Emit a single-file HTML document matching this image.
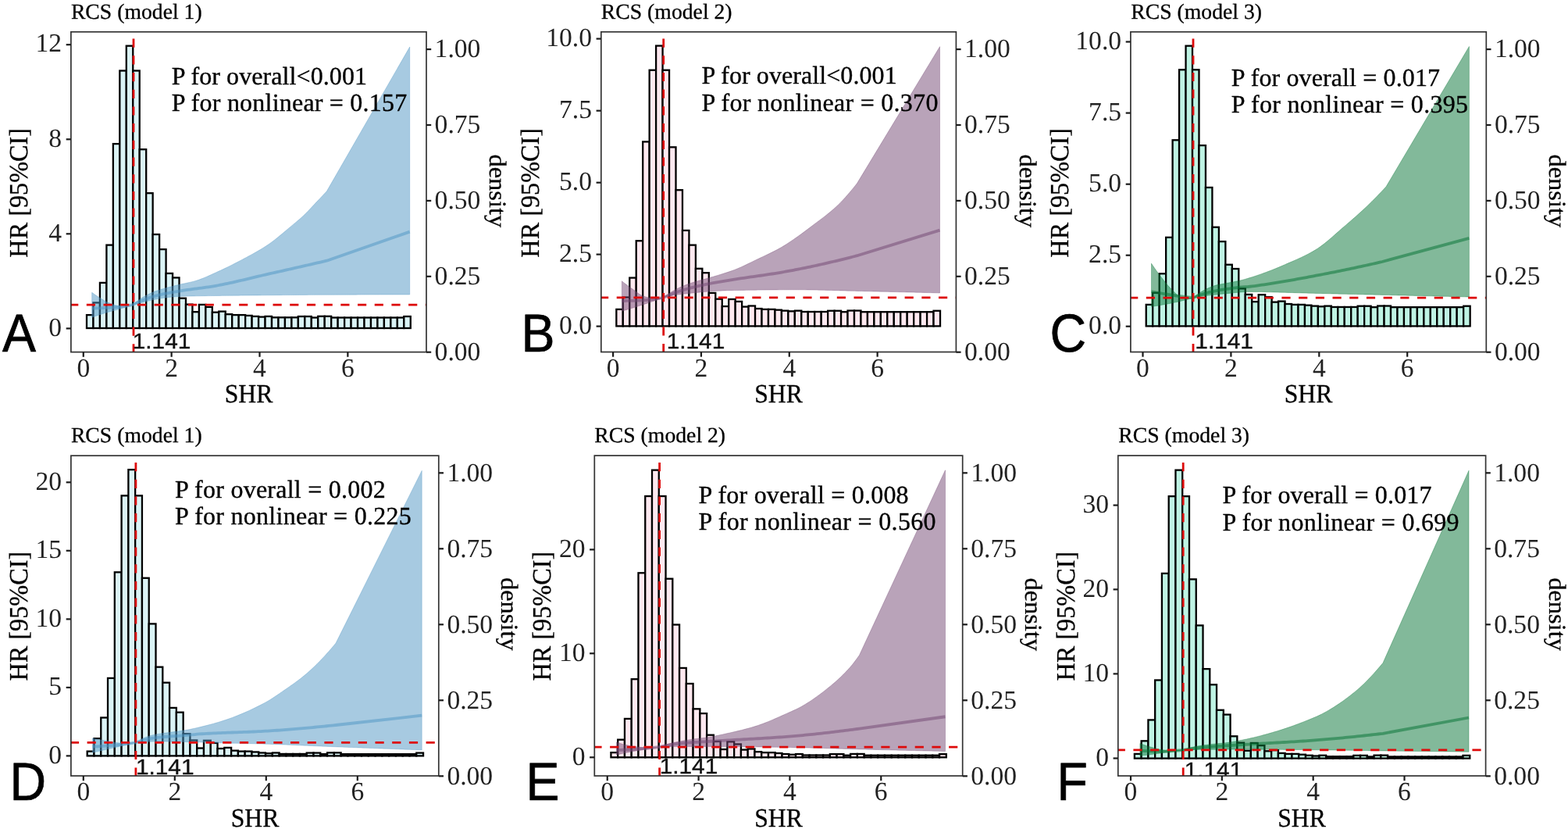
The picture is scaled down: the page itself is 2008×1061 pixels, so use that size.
<!DOCTYPE html>
<html lang="en">
<head>
<meta charset="utf-8">
<title>RCS curves: SHR and hazard ratio (models 1-3)</title>
<style>
html,body{margin:0;padding:0;background:#fff;}
body{width:2008px;height:1061px;overflow:hidden;}
svg{display:block;}
text{white-space:pre;}
</style>
</head>
<body>
<svg width="2008" height="1061" viewBox="0 0 2008 1061" text-rendering="geometricPrecision">
<rect x="0" y="0" width="2008" height="1061" fill="#ffffff"/>
<g class="panel" id="panel-A">
<clipPath id="clipA"><rect x="90.9" y="40.8" width="455.1" height="409.8"/></clipPath>
<g clip-path="url(#clipA)">
<g fill="#dbf4f6" stroke="#000" stroke-width="2.3" stroke-linejoin="miter">
<rect x="111.01" y="403.1" width="8.46" height="16.9"/>
<rect x="119.48" y="387.4" width="8.46" height="32.6"/>
<rect x="127.94" y="361.9" width="8.46" height="58.1"/>
<rect x="136.41" y="313.6" width="8.46" height="106.4"/>
<rect x="144.87" y="184.1" width="8.46" height="235.9"/>
<rect x="153.33" y="90.5" width="8.46" height="329.5"/>
<rect x="161.8" y="58.7" width="8.46" height="361.3"/>
<rect x="170.26" y="90.5" width="8.46" height="329.5"/>
<rect x="178.73" y="191.2" width="8.46" height="228.8"/>
<rect x="187.19" y="247.2" width="8.46" height="172.8"/>
<rect x="195.66" y="300" width="8.46" height="120"/>
<rect x="204.12" y="319.1" width="8.46" height="100.9"/>
<rect x="212.59" y="349.9" width="8.46" height="70.1"/>
<rect x="221.05" y="355.4" width="8.46" height="64.6"/>
<rect x="229.52" y="381.7" width="8.46" height="38.3"/>
<rect x="237.98" y="389.6" width="8.46" height="30.4"/>
<rect x="246.44" y="399.2" width="8.46" height="20.8"/>
<rect x="254.91" y="389.9" width="8.46" height="30.1"/>
<rect x="263.37" y="392.9" width="8.46" height="27.1"/>
<rect x="271.84" y="399.7" width="8.46" height="20.3"/>
<rect x="280.3" y="398.6" width="8.46" height="21.4"/>
<rect x="288.77" y="402.2" width="8.46" height="17.8"/>
<rect x="297.23" y="403.1" width="8.46" height="16.9"/>
<rect x="305.7" y="403.1" width="8.46" height="16.9"/>
<rect x="314.16" y="403.9" width="8.46" height="16.1"/>
<rect x="322.62" y="404.9" width="8.46" height="15.1"/>
<rect x="331.09" y="405.6" width="8.46" height="14.4"/>
<rect x="339.55" y="404.9" width="8.46" height="15.1"/>
<rect x="348.02" y="406.3" width="8.46" height="13.7"/>
<rect x="356.48" y="406.3" width="8.46" height="13.7"/>
<rect x="364.95" y="406.3" width="8.46" height="13.7"/>
<rect x="373.41" y="406.3" width="8.46" height="13.7"/>
<rect x="381.88" y="405" width="8.46" height="15"/>
<rect x="390.34" y="405" width="8.46" height="15"/>
<rect x="398.81" y="406.5" width="8.46" height="13.5"/>
<rect x="407.27" y="404.8" width="8.46" height="15.2"/>
<rect x="415.73" y="404.8" width="8.46" height="15.2"/>
<rect x="424.2" y="406.5" width="8.46" height="13.5"/>
<rect x="432.66" y="406.5" width="8.46" height="13.5"/>
<rect x="441.13" y="406.5" width="8.46" height="13.5"/>
<rect x="449.59" y="406.5" width="8.46" height="13.5"/>
<rect x="458.06" y="406.5" width="8.46" height="13.5"/>
<rect x="466.52" y="406.5" width="8.46" height="13.5"/>
<rect x="474.99" y="406.5" width="8.46" height="13.5"/>
<rect x="483.45" y="406.5" width="8.46" height="13.5"/>
<rect x="491.91" y="406.5" width="8.46" height="13.5"/>
<rect x="500.38" y="406.5" width="8.46" height="13.5"/>
<rect x="508.84" y="406.5" width="8.46" height="13.5"/>
<rect x="517.31" y="405" width="8.46" height="15"/>
</g>
<polygon points="117.7,374.3 119.72,375.78 121.75,377.22 123.77,378.61 125.79,379.94 127.82,381.21 129.84,382.48 131.86,383.73 133.88,384.93 135.91,386.03 137.93,387 139.95,387.82 141.98,388.66 144,389.48 146.02,390.23 148.05,390.86 150.07,391.29 152.09,391.49 154.12,391.49 156.14,391.47 158.16,391.43 160.18,391.37 162.21,391.3 164.23,391.21 166.25,390.97 168.28,390.48 170.3,389.9 173.33,387.33 176.35,384.93 179.38,382.74 182.4,380.83 185.43,379.07 188.45,377.43 191.48,375.92 194.5,374.54 197.53,373.29 200.56,372.19 203.58,371.2 206.61,370.29 209.63,369.44 212.66,368.61 215.68,367.8 218.71,367 221.74,366.23 224.76,365.48 227.79,364.75 230.81,364.03 233.84,363.34 236.86,362.69 239.89,362.05 242.91,361.39 245.94,360.68 248.97,359.89 251.99,359 255.02,357.98 258.04,356.87 261.07,355.68 264.09,354.41 267.12,353.09 270.15,351.73 273.17,350.35 276.2,348.95 279.22,347.56 282.25,346.19 285.27,344.79 288.3,343.36 291.32,341.9 294.35,340.41 297.38,338.9 300.4,337.37 303.43,335.81 306.45,334.23 309.48,332.64 312.5,331.02 315.53,329.41 318.55,327.79 321.58,326.15 324.61,324.5 327.63,322.81 330.66,321.08 333.68,319.29 336.71,317.45 339.73,315.55 342.76,313.56 345.79,311.47 348.81,309.26 351.84,306.94 354.86,304.55 357.89,302.09 360.91,299.58 363.94,297.03 366.96,294.48 369.99,291.92 373.02,289.39 376.04,286.88 379.07,284.38 382.09,281.84 385.12,279.23 388.14,276.5 391.17,273.6 394.2,270.51 397.22,267.31 400.25,264.05 403.27,260.8 406.3,257.61 409.32,254.42 412.35,251.22 415.37,248.01 418.4,244.8 524.7,60.1 524.7,377 521.7,377 518.69,377 515.69,377 512.69,377 509.68,377.01 506.68,377.01 503.68,377.01 500.67,377.02 497.67,377.02 494.67,377.03 491.66,377.03 488.66,377.04 485.66,377.05 482.65,377.05 479.65,377.06 476.65,377.07 473.64,377.07 470.64,377.08 467.64,377.09 464.63,377.1 461.63,377.11 458.63,377.12 455.62,377.13 452.62,377.14 449.62,377.15 446.61,377.16 443.61,377.17 440.61,377.18 437.6,377.19 434.6,377.2 431.59,377.21 428.59,377.23 425.59,377.24 422.58,377.25 419.58,377.26 416.58,377.27 413.57,377.29 410.57,377.3 407.57,377.31 404.56,377.32 401.56,377.34 398.56,377.36 395.55,377.37 392.55,377.39 389.55,377.41 386.54,377.43 383.54,377.45 380.54,377.48 377.53,377.5 374.53,377.52 371.53,377.55 368.52,377.57 365.52,377.6 362.52,377.62 359.51,377.65 356.51,377.67 353.51,377.7 350.5,377.73 347.5,377.75 344.5,377.78 341.49,377.8 338.49,377.83 335.49,377.86 332.48,377.88 329.48,377.91 326.48,377.94 323.47,377.96 320.47,377.99 317.47,378.02 314.46,378.05 311.46,378.08 308.46,378.1 305.45,378.14 302.45,378.17 299.45,378.2 296.44,378.23 293.44,378.27 290.44,378.3 287.43,378.34 284.43,378.37 281.43,378.41 278.42,378.45 275.42,378.49 272.42,378.54 269.41,378.58 266.41,378.62 263.41,378.66 260.4,378.71 257.4,378.75 254.39,378.8 251.39,378.85 248.39,378.91 245.38,378.98 242.38,379.05 239.38,379.12 236.37,379.21 233.37,379.3 230.37,379.4 227.36,379.55 224.36,379.75 221.36,380.01 218.35,380.29 215.35,380.59 212.35,380.94 209.34,381.34 206.34,381.79 203.34,382.29 200.33,382.82 197.33,383.39 194.33,384.05 191.32,384.8 188.32,385.59 185.32,386.39 182.31,387.16 179.31,387.87 176.31,388.56 173.3,389.23 170.3,389.9 168.28,390.6 166.25,391.29 164.23,391.97 162.21,392.63 160.18,393.28 158.16,393.91 156.14,394.53 154.12,395.12 152.09,395.69 150.07,396.25 148.05,396.79 146.02,397.32 144,397.87 141.98,398.42 139.95,398.99 137.93,399.59 135.91,400.2 133.88,400.81 131.86,401.44 129.84,402.08 127.82,402.73 125.79,403.38 123.77,404.05 121.75,404.72 119.72,405.41 117.7,406.1" fill="#4f95c3" fill-opacity="0.5" stroke="#4f95c3" stroke-opacity="0.35" stroke-width="1" stroke-linejoin="round"/>
<polyline points="117.7,394.6 119.72,394.56 121.75,394.51 123.77,394.45 125.79,394.39 127.82,394.31 129.84,394.23 131.86,394.14 133.88,394.05 135.91,393.95 137.93,393.85 139.95,393.74 141.98,393.63 144,393.51 146.02,393.37 148.05,393.22 150.07,393.06 152.09,392.88 154.12,392.69 156.14,392.47 158.16,392.22 160.18,391.92 162.21,391.58 164.23,391.2 166.25,390.79 168.28,390.35 170.3,389.9 173.33,388.43 176.35,387.02 179.38,385.69 182.4,384.46 185.43,383.26 188.45,382.11 191.48,381.01 194.5,380 197.53,379.11 200.56,378.32 203.58,377.58 206.61,376.89 209.63,376.23 212.66,375.61 215.68,375.02 218.71,374.46 221.74,373.91 224.76,373.38 227.79,372.86 230.81,372.35 233.84,371.85 236.86,371.39 239.89,370.94 242.91,370.52 245.94,370.11 248.97,369.71 251.99,369.31 255.02,368.92 258.04,368.52 261.07,368.11 264.09,367.69 267.12,367.26 270.15,366.8 273.17,366.31 276.2,365.79 279.22,365.25 282.25,364.68 285.27,364.09 288.3,363.47 291.32,362.84 294.35,362.19 297.38,361.53 300.4,360.85 303.43,360.16 306.45,359.46 309.48,358.75 312.5,358.03 315.53,357.31 318.55,356.59 321.58,355.86 324.61,355.14 327.63,354.41 330.66,353.69 333.68,352.98 336.71,352.27 339.73,351.57 342.76,350.89 345.79,350.21 348.81,349.52 351.84,348.84 354.86,348.16 357.89,347.48 360.91,346.79 363.94,346.11 366.96,345.42 369.99,344.74 373.02,344.05 376.04,343.36 379.07,342.68 382.09,341.99 385.12,341.3 388.14,340.61 391.17,339.93 394.2,339.24 397.22,338.55 400.25,337.85 403.27,337.16 406.3,336.47 409.32,335.78 412.35,335.09 415.37,334.39 418.4,333.7 524.7,296.6" fill="none" stroke="#4f95c3" stroke-width="3.8" stroke-opacity="0.52" stroke-linejoin="round"/>
<line x1="89.1" y1="390.2" x2="546" y2="390.2" stroke="#dd0a0a" stroke-width="2.8" stroke-dasharray="11.2 10.5"/>
<line x1="171" y1="451.4" x2="171" y2="40.8" stroke="#dd0a0a" stroke-width="2.8" stroke-dasharray="11.2 10.5"/>
<text transform="translate(169.75 446.4) scale(1.072 1)" font-family='"Liberation Sans", "DejaVu Sans", sans-serif' font-size="27.8" fill="#111" stroke="#111" stroke-width="0.4">1.141</text>
</g>
<text x="219.7" y="107.6" font-family='"Liberation Serif", "DejaVu Serif", serif' font-size="32.0" textLength="250.3" lengthAdjust="spacing" fill="#000" stroke="#000" stroke-width="0.35">P for overall&lt;0.001</text>
<text x="219.7" y="142.2" font-family='"Liberation Serif", "DejaVu Serif", serif' font-size="32.0" textLength="301.5" lengthAdjust="spacing" fill="#000" stroke="#000" stroke-width="0.35">P for nonlinear = 0.157</text>
<rect x="90.9" y="40.8" width="455.1" height="409.8" fill="none" stroke="#333333" stroke-width="1.7"/>
<g stroke="#1a1a1a" stroke-width="2.2">
<line x1="84.7" y1="420.4" x2="90.9" y2="420.4"/>
<line x1="84.7" y1="299.3" x2="90.9" y2="299.3"/>
<line x1="84.7" y1="178.3" x2="90.9" y2="178.3"/>
<line x1="84.7" y1="57.2" x2="90.9" y2="57.2"/>
<line x1="546" y1="450.7" x2="552.2" y2="450.7"/>
<line x1="546" y1="353.8" x2="552.2" y2="353.8"/>
<line x1="546" y1="256.9" x2="552.2" y2="256.9"/>
<line x1="546" y1="160" x2="552.2" y2="160"/>
<line x1="546" y1="63.1" x2="552.2" y2="63.1"/>
<line x1="106.78" y1="450.6" x2="106.78" y2="456.8"/>
<line x1="219.64" y1="450.6" x2="219.64" y2="456.8"/>
<line x1="332.5" y1="450.6" x2="332.5" y2="456.8"/>
<line x1="445.36" y1="450.6" x2="445.36" y2="456.8"/>
</g>
<g font-family='"Liberation Serif", "DejaVu Serif", serif' font-size="33.6" fill="#222">
<text x="79.1" y="429.6" text-anchor="end">0</text>
<text x="79.1" y="308.5" text-anchor="end">4</text>
<text x="79.1" y="187.5" text-anchor="end">8</text>
<text x="79.1" y="66.4" text-anchor="end">12</text>
<text x="556.6" y="460.9">0.00</text>
<text x="556.6" y="364">0.25</text>
<text x="556.6" y="267.1">0.50</text>
<text x="556.6" y="170.2">0.75</text>
<text x="556.6" y="73.3">1.00</text>
<text x="106.78" y="481.6" text-anchor="middle">0</text>
<text x="219.64" y="481.6" text-anchor="middle">2</text>
<text x="332.5" y="481.6" text-anchor="middle">4</text>
<text x="445.36" y="481.6" text-anchor="middle">6</text>
</g>
<g font-family='"Liberation Serif", "DejaVu Serif", serif' font-size="32.0" fill="#000" stroke="#000" stroke-width="0.3">
<text transform="translate(318.5 515.2) scale(0.99 1.05)" text-anchor="middle">SHR</text>
<text transform="translate(34.9 246.8) rotate(-90) scale(1.008 1.05)" text-anchor="middle">HR [95%CI]</text>
<text transform="translate(626.5 244.3) rotate(90) scale(1.015 0.97)" text-anchor="middle">density</text>
</g>
<text x="90.9" y="23.7" font-family='"Liberation Serif", "DejaVu Serif", serif' font-size="27.7" fill="#000" stroke="#000" stroke-width="0.3" textLength="167.8" lengthAdjust="spacing">RCS (model 1)</text>
<text transform="translate(3 450.4) scale(0.94 1)" font-family='"Liberation Sans", "DejaVu Sans", sans-serif' font-size="68.6" fill="#000" stroke="#000" stroke-width="0.7">A</text>
</g>
<g class="panel" id="panel-B">
<clipPath id="clipB"><rect x="769.8" y="40.8" width="454.6" height="409.7"/></clipPath>
<g clip-path="url(#clipB)">
<g fill="#ffe9f0" stroke="#000" stroke-width="2.3" stroke-linejoin="miter">
<rect x="789.33" y="395.9" width="8.46" height="21.5"/>
<rect x="797.79" y="380.52" width="8.46" height="36.88"/>
<rect x="806.26" y="355.55" width="8.46" height="61.85"/>
<rect x="814.72" y="308.24" width="8.46" height="109.16"/>
<rect x="823.18" y="181.41" width="8.46" height="235.99"/>
<rect x="831.65" y="89.74" width="8.46" height="327.66"/>
<rect x="840.11" y="58.59" width="8.46" height="358.81"/>
<rect x="848.57" y="89.74" width="8.46" height="327.66"/>
<rect x="857.04" y="188.36" width="8.46" height="229.04"/>
<rect x="865.5" y="243.21" width="8.46" height="174.19"/>
<rect x="873.96" y="294.92" width="8.46" height="122.48"/>
<rect x="882.42" y="313.63" width="8.46" height="103.77"/>
<rect x="890.89" y="343.79" width="8.46" height="73.61"/>
<rect x="899.35" y="349.18" width="8.46" height="68.22"/>
<rect x="907.81" y="374.94" width="8.46" height="42.46"/>
<rect x="916.28" y="382.68" width="8.46" height="34.72"/>
<rect x="924.74" y="392.08" width="8.46" height="25.32"/>
<rect x="933.2" y="382.97" width="8.46" height="34.43"/>
<rect x="941.67" y="385.91" width="8.46" height="31.49"/>
<rect x="950.13" y="392.57" width="8.46" height="24.83"/>
<rect x="958.59" y="391.49" width="8.46" height="25.91"/>
<rect x="967.05" y="395.02" width="8.46" height="22.38"/>
<rect x="975.52" y="395.9" width="8.46" height="21.5"/>
<rect x="983.98" y="395.9" width="8.46" height="21.5"/>
<rect x="992.44" y="396.68" width="8.46" height="20.72"/>
<rect x="1000.91" y="397.66" width="8.46" height="19.74"/>
<rect x="1009.37" y="398.35" width="8.46" height="19.05"/>
<rect x="1017.83" y="397.66" width="8.46" height="19.74"/>
<rect x="1026.3" y="399.03" width="8.46" height="18.37"/>
<rect x="1034.76" y="399.03" width="8.46" height="18.37"/>
<rect x="1043.22" y="399.03" width="8.46" height="18.37"/>
<rect x="1051.68" y="399.03" width="8.46" height="18.37"/>
<rect x="1060.15" y="397.76" width="8.46" height="19.64"/>
<rect x="1068.61" y="397.76" width="8.46" height="19.64"/>
<rect x="1077.07" y="399.23" width="8.46" height="18.17"/>
<rect x="1085.54" y="397.56" width="8.46" height="19.84"/>
<rect x="1094" y="397.56" width="8.46" height="19.84"/>
<rect x="1102.46" y="399.23" width="8.46" height="18.17"/>
<rect x="1110.93" y="399.23" width="8.46" height="18.17"/>
<rect x="1119.39" y="399.23" width="8.46" height="18.17"/>
<rect x="1127.85" y="399.23" width="8.46" height="18.17"/>
<rect x="1136.31" y="399.23" width="8.46" height="18.17"/>
<rect x="1144.78" y="399.23" width="8.46" height="18.17"/>
<rect x="1153.24" y="399.23" width="8.46" height="18.17"/>
<rect x="1161.7" y="399.23" width="8.46" height="18.17"/>
<rect x="1170.17" y="399.23" width="8.46" height="18.17"/>
<rect x="1178.63" y="399.23" width="8.46" height="18.17"/>
<rect x="1187.09" y="399.23" width="8.46" height="18.17"/>
<rect x="1195.56" y="397.76" width="8.46" height="19.64"/>
</g>
<polygon points="796.4,359.8 798.45,361.44 800.5,363.04 802.55,364.61 804.6,366.14 806.65,367.64 808.7,369.1 810.75,370.52 812.8,372.03 814.85,373.58 816.9,375.11 818.95,376.54 821,377.8 823.05,378.82 825.1,379.53 827.15,380.06 829.2,380.55 831.25,381 833.3,381.39 835.35,381.69 837.4,381.9 839.45,382 841.5,381.97 843.55,381.83 845.6,381.59 847.65,381.24 849.7,380.8 852.72,378.54 855.75,376.39 858.77,374.36 861.79,372.48 864.82,370.75 867.84,369.18 870.86,367.74 873.89,366.41 876.91,365.17 879.93,364.01 882.95,362.93 885.98,361.91 889,360.96 892.02,360.07 895.05,359.23 898.07,358.41 901.09,357.6 904.12,356.79 907.14,355.95 910.16,355.08 913.19,354.19 916.21,353.29 919.23,352.38 922.26,351.46 925.28,350.51 928.3,349.56 931.33,348.6 934.35,347.61 937.37,346.57 940.4,345.45 943.42,344.25 946.44,342.97 949.46,341.64 952.49,340.25 955.51,338.82 958.53,337.37 961.56,335.9 964.58,334.42 967.6,332.95 970.63,331.5 973.65,330.07 976.67,328.64 979.7,327.22 982.72,325.78 985.74,324.33 988.77,322.84 991.79,321.31 994.81,319.74 997.84,318.11 1000.86,316.41 1003.88,314.61 1006.9,312.72 1009.93,310.75 1012.95,308.73 1015.97,306.68 1019,304.61 1022.02,302.48 1025.04,300.3 1028.07,298.08 1031.09,295.83 1034.11,293.55 1037.14,291.26 1040.16,288.97 1043.18,286.7 1046.21,284.45 1049.23,282.2 1052.25,279.93 1055.28,277.63 1058.3,275.27 1061.32,272.85 1064.35,270.34 1067.37,267.74 1070.39,265.02 1073.41,262.16 1076.44,259.15 1079.46,256 1082.48,252.71 1085.51,249.29 1088.53,245.77 1091.55,242.13 1094.58,238.41 1097.6,234.6 1203.5,59.7 1203.5,374.9 1200.48,374.83 1197.45,374.75 1194.43,374.68 1191.4,374.61 1188.38,374.54 1185.36,374.46 1182.33,374.39 1179.31,374.32 1176.28,374.25 1173.26,374.18 1170.24,374.1 1167.21,374.03 1164.19,373.96 1161.16,373.89 1158.14,373.82 1155.12,373.75 1152.09,373.68 1149.07,373.61 1146.05,373.54 1143.02,373.47 1140,373.4 1136.97,373.33 1133.95,373.26 1130.93,373.19 1127.9,373.13 1124.88,373.06 1121.85,372.99 1118.83,372.92 1115.81,372.85 1112.78,372.78 1109.76,372.72 1106.73,372.65 1103.71,372.58 1100.69,372.52 1097.66,372.45 1094.64,372.37 1091.61,372.3 1088.59,372.22 1085.57,372.14 1082.54,372.06 1079.52,371.97 1076.49,371.89 1073.47,371.8 1070.45,371.72 1067.42,371.63 1064.4,371.55 1061.38,371.47 1058.35,371.39 1055.33,371.31 1052.3,371.24 1049.28,371.17 1046.26,371.1 1043.23,371.04 1040.21,370.99 1037.18,370.94 1034.16,370.9 1031.14,370.86 1028.11,370.83 1025.09,370.81 1022.06,370.8 1019.04,370.8 1016.02,370.8 1012.99,370.81 1009.97,370.81 1006.94,370.82 1003.92,370.84 1000.9,370.85 997.87,370.87 994.85,370.89 991.82,370.91 988.8,370.93 985.78,370.96 982.75,370.99 979.73,371.02 976.71,371.05 973.68,371.08 970.66,371.12 967.63,371.16 964.61,371.2 961.59,371.24 958.56,371.29 955.54,371.33 952.51,371.38 949.49,371.43 946.47,371.48 943.44,371.54 940.42,371.59 937.39,371.65 934.37,371.71 931.35,371.79 928.32,371.89 925.3,372.01 922.27,372.15 919.25,372.31 916.23,372.48 913.2,372.66 910.18,372.85 907.15,373.05 904.13,373.28 901.11,373.55 898.08,373.83 895.06,374.13 892.04,374.45 889.01,374.76 885.99,375.08 882.96,375.4 879.94,375.7 876.92,376.01 873.89,376.33 870.87,376.68 867.84,377.08 864.82,377.54 861.8,378.07 858.77,378.67 855.75,379.33 852.72,380.04 849.7,380.8 847.65,381.54 845.6,382.28 843.55,383.02 841.5,383.74 839.45,384.46 837.4,385.18 835.35,385.89 833.3,386.59 831.25,387.28 829.2,387.97 827.15,388.66 825.1,389.34 823.05,390.01 821,390.68 818.95,391.34 816.9,391.99 814.85,392.64 812.8,393.28 810.75,393.92 808.7,394.55 806.65,395.17 804.6,395.79 802.55,396.4 800.5,397.01 798.45,397.61 796.4,398.2" fill="#734773" fill-opacity="0.5" stroke="#734773" stroke-opacity="0.35" stroke-width="1" stroke-linejoin="round"/>
<polyline points="796.4,385 798.45,385 800.5,384.98 802.55,384.96 804.6,384.93 806.65,384.89 808.7,384.84 810.75,384.79 812.8,384.73 814.85,384.67 816.9,384.61 818.95,384.54 821,384.46 823.05,384.36 825.1,384.22 827.15,384.05 829.2,383.86 831.25,383.64 833.3,383.39 835.35,383.13 837.4,382.84 839.45,382.54 841.5,382.22 843.55,381.88 845.6,381.53 847.65,381.17 849.7,380.8 852.72,379.44 855.75,378.14 858.77,376.89 861.79,375.7 864.82,374.57 867.84,373.51 870.86,372.51 873.89,371.55 876.91,370.64 879.93,369.77 882.95,368.95 885.98,368.16 889,367.4 892.02,366.67 895.05,365.96 898.07,365.27 901.09,364.61 904.12,363.97 907.14,363.35 910.16,362.75 913.19,362.18 916.21,361.62 919.23,361.09 922.26,360.57 925.28,360.06 928.3,359.56 931.33,359.07 934.35,358.57 937.37,358.08 940.4,357.6 943.42,357.14 946.44,356.68 949.46,356.23 952.49,355.78 955.51,355.34 958.53,354.91 961.56,354.48 964.58,354.04 967.6,353.61 970.63,353.18 973.65,352.75 976.67,352.31 979.7,351.87 982.72,351.42 985.74,350.96 988.77,350.5 991.79,350.03 994.81,349.54 997.84,349.04 1000.86,348.53 1003.88,348 1006.9,347.46 1009.93,346.9 1012.95,346.34 1015.97,345.77 1019,345.19 1022.02,344.6 1025.04,344.01 1028.07,343.4 1031.09,342.79 1034.11,342.16 1037.14,341.53 1040.16,340.89 1043.18,340.24 1046.21,339.59 1049.23,338.92 1052.25,338.25 1055.28,337.57 1058.3,336.88 1061.32,336.18 1064.35,335.47 1067.37,334.76 1070.39,334.04 1073.41,333.31 1076.44,332.57 1079.46,331.83 1082.48,331.07 1085.51,330.31 1088.53,329.55 1091.55,328.77 1094.58,327.99 1097.6,327.2 1203.5,294.6" fill="none" stroke="#734773" stroke-width="3.8" stroke-opacity="0.52" stroke-linejoin="round"/>
<line x1="768" y1="380.9" x2="1224.4" y2="380.9" stroke="#dd0a0a" stroke-width="2.8" stroke-dasharray="11.2 10.5"/>
<line x1="849.7" y1="451.3" x2="849.7" y2="40.8" stroke="#dd0a0a" stroke-width="2.8" stroke-dasharray="11.2 10.5"/>
<text transform="translate(853.65 446.1) scale(1.072 1)" font-family='"Liberation Sans", "DejaVu Sans", sans-serif' font-size="27.8" fill="#111" stroke="#111" stroke-width="0.4">1.141</text>
</g>
<text x="898.4" y="106.6" font-family='"Liberation Serif", "DejaVu Serif", serif' font-size="32.0" textLength="250.3" lengthAdjust="spacing" fill="#000" stroke="#000" stroke-width="0.35">P for overall&lt;0.001</text>
<text x="898.4" y="141.6" font-family='"Liberation Serif", "DejaVu Serif", serif' font-size="32.0" textLength="303" lengthAdjust="spacing" fill="#000" stroke="#000" stroke-width="0.35">P for nonlinear = 0.370</text>
<rect x="769.8" y="40.8" width="454.6" height="409.7" fill="none" stroke="#333333" stroke-width="1.7"/>
<g stroke="#1a1a1a" stroke-width="2.2">
<line x1="763.6" y1="417.6" x2="769.8" y2="417.6"/>
<line x1="763.6" y1="325.6" x2="769.8" y2="325.6"/>
<line x1="763.6" y1="233.7" x2="769.8" y2="233.7"/>
<line x1="763.6" y1="141.7" x2="769.8" y2="141.7"/>
<line x1="763.6" y1="49.6" x2="769.8" y2="49.6"/>
<line x1="1224.4" y1="450.7" x2="1230.6" y2="450.7"/>
<line x1="1224.4" y1="353.8" x2="1230.6" y2="353.8"/>
<line x1="1224.4" y1="256.9" x2="1230.6" y2="256.9"/>
<line x1="1224.4" y1="160" x2="1230.6" y2="160"/>
<line x1="1224.4" y1="63.1" x2="1230.6" y2="63.1"/>
<line x1="785.1" y1="450.5" x2="785.1" y2="456.7"/>
<line x1="897.94" y1="450.5" x2="897.94" y2="456.7"/>
<line x1="1010.78" y1="450.5" x2="1010.78" y2="456.7"/>
<line x1="1123.62" y1="450.5" x2="1123.62" y2="456.7"/>
</g>
<g font-family='"Liberation Serif", "DejaVu Serif", serif' font-size="33.6" fill="#222">
<text x="758" y="426.8" text-anchor="end">0.0</text>
<text x="758" y="334.8" text-anchor="end">2.5</text>
<text x="758" y="242.9" text-anchor="end">5.0</text>
<text x="758" y="150.9" text-anchor="end">7.5</text>
<text x="758" y="58.8" text-anchor="end">10.0</text>
<text x="1235" y="460.9">0.00</text>
<text x="1235" y="364">0.25</text>
<text x="1235" y="267.1">0.50</text>
<text x="1235" y="170.2">0.75</text>
<text x="1235" y="73.3">1.00</text>
<text x="785.1" y="481.6" text-anchor="middle">0</text>
<text x="897.94" y="481.6" text-anchor="middle">2</text>
<text x="1010.78" y="481.6" text-anchor="middle">4</text>
<text x="1123.62" y="481.6" text-anchor="middle">6</text>
</g>
<g font-family='"Liberation Serif", "DejaVu Serif", serif' font-size="32.0" fill="#000" stroke="#000" stroke-width="0.3">
<text transform="translate(997 515.2) scale(0.99 1.05)" text-anchor="middle">SHR</text>
<text transform="translate(689.8 246.8) rotate(-90) scale(1.008 1.05)" text-anchor="middle">HR [95%CI]</text>
<text transform="translate(1305.5 244.3) rotate(90) scale(1.015 0.97)" text-anchor="middle">density</text>
</g>
<text x="769.8" y="23.7" font-family='"Liberation Serif", "DejaVu Serif", serif' font-size="27.7" fill="#000" stroke="#000" stroke-width="0.3" textLength="167.8" lengthAdjust="spacing">RCS (model 2)</text>
<text transform="translate(667.5 450.3) scale(0.94 1)" font-family='"Liberation Sans", "DejaVu Sans", sans-serif' font-size="68.6" fill="#000" stroke="#000" stroke-width="0.7">B</text>
</g>
<g class="panel" id="panel-C">
<clipPath id="clipC"><rect x="1447.9" y="40.8" width="455.4" height="409.7"/></clipPath>
<g clip-path="url(#clipC)">
<g fill="#bff4e4" stroke="#000" stroke-width="2.3" stroke-linejoin="miter">
<rect x="1467.73" y="389.9" width="8.47" height="27.5"/>
<rect x="1476.2" y="374.8" width="8.47" height="42.6"/>
<rect x="1484.67" y="350.28" width="8.47" height="67.12"/>
<rect x="1493.14" y="303.83" width="8.47" height="113.57"/>
<rect x="1501.6" y="179.28" width="8.47" height="238.12"/>
<rect x="1510.07" y="89.27" width="8.47" height="328.13"/>
<rect x="1518.54" y="58.69" width="8.47" height="358.71"/>
<rect x="1527.01" y="89.27" width="8.47" height="328.13"/>
<rect x="1535.47" y="186.11" width="8.47" height="231.29"/>
<rect x="1543.94" y="239.97" width="8.47" height="177.43"/>
<rect x="1552.41" y="290.75" width="8.47" height="126.65"/>
<rect x="1560.88" y="309.11" width="8.47" height="108.29"/>
<rect x="1569.34" y="338.73" width="8.47" height="78.67"/>
<rect x="1577.81" y="344.02" width="8.47" height="73.38"/>
<rect x="1586.28" y="369.32" width="8.47" height="48.08"/>
<rect x="1594.75" y="376.91" width="8.47" height="40.49"/>
<rect x="1603.21" y="386.15" width="8.47" height="31.25"/>
<rect x="1611.68" y="377.2" width="8.47" height="40.2"/>
<rect x="1620.15" y="380.09" width="8.47" height="37.31"/>
<rect x="1628.62" y="386.63" width="8.47" height="30.77"/>
<rect x="1637.08" y="385.57" width="8.47" height="31.83"/>
<rect x="1645.55" y="389.03" width="8.47" height="28.37"/>
<rect x="1654.02" y="389.9" width="8.47" height="27.5"/>
<rect x="1662.49" y="389.9" width="8.47" height="27.5"/>
<rect x="1670.95" y="390.67" width="8.47" height="26.73"/>
<rect x="1679.42" y="391.63" width="8.47" height="25.77"/>
<rect x="1687.89" y="392.3" width="8.47" height="25.1"/>
<rect x="1696.36" y="391.63" width="8.47" height="25.77"/>
<rect x="1704.82" y="392.97" width="8.47" height="24.43"/>
<rect x="1713.29" y="392.97" width="8.47" height="24.43"/>
<rect x="1721.76" y="392.97" width="8.47" height="24.43"/>
<rect x="1730.23" y="392.97" width="8.47" height="24.43"/>
<rect x="1738.69" y="391.72" width="8.47" height="25.68"/>
<rect x="1747.16" y="391.72" width="8.47" height="25.68"/>
<rect x="1755.63" y="393.17" width="8.47" height="24.23"/>
<rect x="1764.1" y="391.53" width="8.47" height="25.87"/>
<rect x="1772.56" y="391.53" width="8.47" height="25.87"/>
<rect x="1781.03" y="393.17" width="8.47" height="24.23"/>
<rect x="1789.5" y="393.17" width="8.47" height="24.23"/>
<rect x="1797.97" y="393.17" width="8.47" height="24.23"/>
<rect x="1806.43" y="393.17" width="8.47" height="24.23"/>
<rect x="1814.9" y="393.17" width="8.47" height="24.23"/>
<rect x="1823.37" y="393.17" width="8.47" height="24.23"/>
<rect x="1831.84" y="393.17" width="8.47" height="24.23"/>
<rect x="1840.3" y="393.17" width="8.47" height="24.23"/>
<rect x="1848.77" y="393.17" width="8.47" height="24.23"/>
<rect x="1857.24" y="393.17" width="8.47" height="24.23"/>
<rect x="1865.71" y="393.17" width="8.47" height="24.23"/>
<rect x="1874.17" y="391.72" width="8.47" height="25.68"/>
</g>
<polygon points="1474.5,337.2 1476.56,340.25 1478.62,343.24 1480.67,346.15 1482.73,348.98 1484.79,351.72 1486.85,354.41 1488.9,357.1 1490.96,359.75 1493.02,362.33 1495.08,364.79 1497.13,367.1 1499.19,369.23 1501.25,371.21 1503.31,373.31 1505.37,375.43 1507.42,377.43 1509.48,379.18 1511.54,380.52 1513.6,381.33 1515.65,381.5 1517.71,381.5 1519.77,381.49 1521.83,381.46 1523.88,381.4 1525.94,381.32 1528,381.2 1531.01,378.71 1534.02,376.39 1537.04,374.29 1540.05,372.47 1543.06,370.86 1546.07,369.34 1549.09,367.95 1552.1,366.72 1555.11,365.69 1558.12,364.86 1561.13,364.21 1564.15,363.65 1567.16,363.12 1570.17,362.57 1573.18,362 1576.2,361.44 1579.21,360.89 1582.22,360.31 1585.23,359.68 1588.24,358.99 1591.26,358.22 1594.27,357.39 1597.28,356.51 1600.29,355.61 1603.3,354.68 1606.32,353.71 1609.33,352.71 1612.34,351.68 1615.35,350.63 1618.37,349.55 1621.38,348.45 1624.39,347.33 1627.4,346.19 1630.41,345.01 1633.43,343.79 1636.44,342.55 1639.45,341.27 1642.46,339.97 1645.48,338.67 1648.49,337.37 1651.5,336.08 1654.51,334.78 1657.52,333.47 1660.54,332.14 1663.55,330.78 1666.56,329.38 1669.57,327.94 1672.59,326.45 1675.6,324.9 1678.61,323.27 1681.62,321.58 1684.63,319.8 1687.65,317.89 1690.66,315.82 1693.67,313.59 1696.68,311.25 1699.7,308.79 1702.71,306.26 1705.72,303.66 1708.73,301.02 1711.74,298.35 1714.76,295.69 1717.77,293.04 1720.78,290.44 1723.79,287.88 1726.8,285.3 1729.82,282.7 1732.83,280.09 1735.84,277.44 1738.85,274.76 1741.87,272.05 1744.88,269.3 1747.89,266.49 1750.9,263.64 1753.91,260.73 1756.93,257.77 1759.94,254.76 1762.95,251.69 1765.96,248.59 1768.98,245.43 1771.99,242.24 1775,239 1881.4,59.5 1881.4,380 1878.38,379.93 1875.36,379.86 1872.34,379.79 1869.32,379.72 1866.3,379.65 1863.28,379.58 1860.26,379.51 1857.24,379.44 1854.22,379.37 1851.19,379.3 1848.17,379.23 1845.15,379.16 1842.13,379.09 1839.11,379.02 1836.09,378.95 1833.07,378.87 1830.05,378.8 1827.03,378.73 1824.01,378.66 1820.99,378.59 1817.97,378.52 1814.95,378.45 1811.93,378.38 1808.91,378.31 1805.89,378.24 1802.87,378.17 1799.85,378.1 1796.83,378.03 1793.81,377.96 1790.78,377.89 1787.76,377.82 1784.74,377.75 1781.72,377.67 1778.7,377.6 1775.68,377.53 1772.66,377.46 1769.64,377.39 1766.62,377.32 1763.6,377.25 1760.58,377.18 1757.56,377.11 1754.54,377.04 1751.52,376.97 1748.5,376.9 1745.48,376.83 1742.46,376.76 1739.44,376.69 1736.42,376.62 1733.39,376.55 1730.37,376.48 1727.35,376.41 1724.33,376.34 1721.31,376.27 1718.29,376.2 1715.27,376.13 1712.25,376.06 1709.23,375.99 1706.21,375.92 1703.19,375.85 1700.17,375.77 1697.15,375.7 1694.13,375.63 1691.11,375.55 1688.09,375.48 1685.07,375.4 1682.05,375.32 1679.03,375.24 1676.01,375.16 1672.98,375.08 1669.96,374.99 1666.94,374.9 1663.92,374.82 1660.9,374.73 1657.88,374.64 1654.86,374.55 1651.84,374.47 1648.82,374.38 1645.8,374.3 1642.78,374.22 1639.76,374.14 1636.74,374.06 1633.72,373.99 1630.7,373.92 1627.68,373.85 1624.66,373.79 1621.64,373.73 1618.62,373.67 1615.59,373.6 1612.57,373.54 1609.55,373.49 1606.53,373.44 1603.51,373.41 1600.49,373.4 1597.47,373.43 1594.45,373.54 1591.43,373.72 1588.41,373.95 1585.39,374.23 1582.37,374.53 1579.35,374.85 1576.33,375.17 1573.31,375.48 1570.29,375.77 1567.27,376.04 1564.25,376.32 1561.23,376.59 1558.21,376.88 1555.18,377.19 1552.16,377.51 1549.14,377.86 1546.12,378.24 1543.1,378.66 1540.08,379.11 1537.06,379.59 1534.04,380.1 1531.02,380.64 1528,381.2 1525.94,381.77 1523.88,382.33 1521.83,382.88 1519.77,383.42 1517.71,383.95 1515.65,384.47 1513.6,384.97 1511.54,385.47 1509.48,385.95 1507.42,386.42 1505.37,386.87 1503.31,387.32 1501.25,387.75 1499.19,388.16 1497.13,388.57 1495.08,388.97 1493.02,389.36 1490.96,389.74 1488.9,390.11 1486.85,390.47 1484.79,390.82 1482.73,391.16 1480.67,391.49 1478.62,391.8 1476.56,392.11 1474.5,392.4" fill="#057335" fill-opacity="0.5" stroke="#057335" stroke-opacity="0.35" stroke-width="1" stroke-linejoin="round"/>
<polyline points="1474.5,373.2 1476.56,373.58 1478.62,373.96 1480.67,374.33 1482.73,374.69 1484.79,375.05 1486.85,375.4 1488.9,375.75 1490.96,376.09 1493.02,376.42 1495.08,376.75 1497.13,377.07 1499.19,377.38 1501.25,377.68 1503.31,377.99 1505.37,378.28 1507.42,378.57 1509.48,378.86 1511.54,379.14 1513.6,379.42 1515.65,379.69 1517.71,379.96 1519.77,380.22 1521.83,380.47 1523.88,380.72 1525.94,380.96 1528,381.2 1531.03,379.87 1534.05,378.62 1537.08,377.48 1540.1,376.47 1543.12,375.57 1546.15,374.73 1549.17,373.96 1552.2,373.25 1555.22,372.61 1558.25,372.03 1561.28,371.47 1564.3,370.95 1567.33,370.44 1570.35,369.97 1573.38,369.52 1576.4,369.09 1579.42,368.7 1582.45,368.34 1585.47,368.01 1588.5,367.71 1591.53,367.47 1594.55,367.25 1597.58,367.02 1600.6,366.74 1603.62,366.4 1606.65,366.03 1609.67,365.62 1612.7,365.19 1615.72,364.73 1618.75,364.27 1621.78,363.8 1624.8,363.33 1627.83,362.86 1630.85,362.39 1633.88,361.9 1636.9,361.41 1639.92,360.91 1642.95,360.41 1645.97,359.89 1649,359.37 1652.03,358.85 1655.05,358.31 1658.08,357.78 1661.1,357.23 1664.12,356.69 1667.15,356.13 1670.17,355.58 1673.2,355.02 1676.22,354.45 1679.25,353.89 1682.28,353.32 1685.3,352.74 1688.33,352.17 1691.35,351.59 1694.38,351 1697.4,350.41 1700.42,349.82 1703.45,349.22 1706.47,348.62 1709.5,348.02 1712.53,347.41 1715.55,346.79 1718.58,346.17 1721.6,345.55 1724.62,344.92 1727.65,344.29 1730.67,343.66 1733.7,343.02 1736.72,342.37 1739.75,341.72 1742.78,341.07 1745.8,340.41 1748.83,339.75 1751.85,339.09 1754.88,338.42 1757.9,337.74 1760.92,337.06 1763.95,336.38 1766.97,335.69 1770,335 1881.4,304.9" fill="none" stroke="#057335" stroke-width="3.8" stroke-opacity="0.52" stroke-linejoin="round"/>
<line x1="1446.1" y1="381.2" x2="1903.3" y2="381.2" stroke="#dd0a0a" stroke-width="2.8" stroke-dasharray="11.2 10.5"/>
<line x1="1528" y1="451.3" x2="1528" y2="40.8" stroke="#dd0a0a" stroke-width="2.8" stroke-dasharray="11.2 10.5"/>
<text transform="translate(1530.35 446.1) scale(1.072 1)" font-family='"Liberation Sans", "DejaVu Sans", sans-serif' font-size="27.8" fill="#111" stroke="#111" stroke-width="0.4">1.141</text>
</g>
<text x="1576.8" y="109.8" font-family='"Liberation Serif", "DejaVu Serif", serif' font-size="32.0" textLength="267.2" lengthAdjust="spacing" fill="#000" stroke="#000" stroke-width="0.35">P for overall = 0.017</text>
<text x="1576.8" y="144.2" font-family='"Liberation Serif", "DejaVu Serif", serif' font-size="32.0" textLength="303.2" lengthAdjust="spacing" fill="#000" stroke="#000" stroke-width="0.35">P for nonlinear = 0.395</text>
<rect x="1447.9" y="40.8" width="455.4" height="409.7" fill="none" stroke="#333333" stroke-width="1.7"/>
<g stroke="#1a1a1a" stroke-width="2.2">
<line x1="1441.7" y1="417.7" x2="1447.9" y2="417.7"/>
<line x1="1441.7" y1="326.7" x2="1447.9" y2="326.7"/>
<line x1="1441.7" y1="235.7" x2="1447.9" y2="235.7"/>
<line x1="1441.7" y1="144.6" x2="1447.9" y2="144.6"/>
<line x1="1441.7" y1="53.5" x2="1447.9" y2="53.5"/>
<line x1="1903.3" y1="450.7" x2="1909.5" y2="450.7"/>
<line x1="1903.3" y1="353.8" x2="1909.5" y2="353.8"/>
<line x1="1903.3" y1="256.9" x2="1909.5" y2="256.9"/>
<line x1="1903.3" y1="160" x2="1909.5" y2="160"/>
<line x1="1903.3" y1="63.1" x2="1909.5" y2="63.1"/>
<line x1="1463.5" y1="450.5" x2="1463.5" y2="456.7"/>
<line x1="1576.4" y1="450.5" x2="1576.4" y2="456.7"/>
<line x1="1689.3" y1="450.5" x2="1689.3" y2="456.7"/>
<line x1="1802.2" y1="450.5" x2="1802.2" y2="456.7"/>
</g>
<g font-family='"Liberation Serif", "DejaVu Serif", serif' font-size="33.6" fill="#222">
<text x="1436.1" y="426.9" text-anchor="end">0.0</text>
<text x="1436.1" y="335.9" text-anchor="end">2.5</text>
<text x="1436.1" y="244.9" text-anchor="end">5.0</text>
<text x="1436.1" y="153.8" text-anchor="end">7.5</text>
<text x="1436.1" y="62.7" text-anchor="end">10.0</text>
<text x="1913.9" y="460.9">0.00</text>
<text x="1913.9" y="364">0.25</text>
<text x="1913.9" y="267.1">0.50</text>
<text x="1913.9" y="170.2">0.75</text>
<text x="1913.9" y="73.3">1.00</text>
<text x="1463.5" y="481.6" text-anchor="middle">0</text>
<text x="1576.4" y="481.6" text-anchor="middle">2</text>
<text x="1689.3" y="481.6" text-anchor="middle">4</text>
<text x="1802.2" y="481.6" text-anchor="middle">6</text>
</g>
<g font-family='"Liberation Serif", "DejaVu Serif", serif' font-size="32.0" fill="#000" stroke="#000" stroke-width="0.3">
<text transform="translate(1675.5 515.2) scale(0.99 1.05)" text-anchor="middle">SHR</text>
<text transform="translate(1368.2 246.8) rotate(-90) scale(1.008 1.05)" text-anchor="middle">HR [95%CI]</text>
<text transform="translate(1983.5 244.3) rotate(90) scale(1.015 0.97)" text-anchor="middle">density</text>
</g>
<text x="1448.2" y="23.7" font-family='"Liberation Serif", "DejaVu Serif", serif' font-size="27.7" fill="#000" stroke="#000" stroke-width="0.3" textLength="167.8" lengthAdjust="spacing">RCS (model 3)</text>
<text transform="translate(1344.5 450.3) scale(0.94 1)" font-family='"Liberation Sans", "DejaVu Sans", sans-serif' font-size="68.6" fill="#000" stroke="#000" stroke-width="0.7">C</text>
</g>
<g class="panel" id="panel-D">
<clipPath id="clipD"><rect x="90.9" y="583.2" width="470.9" height="409.8"/></clipPath>
<g clip-path="url(#clipD)">
<g fill="#dbf4f6" stroke="#000" stroke-width="2.3" stroke-linejoin="miter">
<rect x="111.69" y="961.61" width="8.78" height="5.79"/>
<rect x="120.47" y="945.17" width="8.78" height="22.23"/>
<rect x="129.26" y="918.48" width="8.78" height="48.92"/>
<rect x="138.04" y="867.92" width="8.78" height="99.48"/>
<rect x="146.82" y="732.36" width="8.78" height="235.04"/>
<rect x="155.6" y="634.38" width="8.78" height="333.02"/>
<rect x="164.39" y="601.09" width="8.78" height="366.31"/>
<rect x="173.17" y="634.38" width="8.78" height="333.02"/>
<rect x="181.95" y="739.79" width="8.78" height="227.61"/>
<rect x="190.73" y="798.41" width="8.78" height="168.99"/>
<rect x="199.52" y="853.68" width="8.78" height="113.72"/>
<rect x="208.3" y="873.68" width="8.78" height="93.72"/>
<rect x="217.08" y="905.92" width="8.78" height="61.48"/>
<rect x="225.86" y="911.68" width="8.78" height="55.72"/>
<rect x="234.65" y="939.21" width="8.78" height="28.19"/>
<rect x="243.43" y="947.48" width="8.78" height="19.92"/>
<rect x="252.21" y="957.53" width="8.78" height="9.87"/>
<rect x="260.99" y="947.79" width="8.78" height="19.61"/>
<rect x="269.78" y="950.93" width="8.78" height="16.47"/>
<rect x="278.56" y="958.05" width="8.78" height="9.35"/>
<rect x="287.34" y="956.9" width="8.78" height="10.5"/>
<rect x="296.12" y="960.67" width="8.78" height="6.73"/>
<rect x="304.91" y="961.61" width="8.78" height="5.79"/>
<rect x="313.69" y="961.61" width="8.78" height="5.79"/>
<rect x="322.47" y="962.45" width="8.78" height="4.95"/>
<rect x="331.25" y="963.49" width="8.78" height="3.91"/>
<rect x="340.04" y="964.23" width="8.78" height="3.17"/>
<rect x="348.82" y="963.49" width="8.78" height="3.91"/>
<rect x="357.6" y="964.96" width="8.78" height="2.44"/>
<rect x="366.38" y="964.96" width="8.78" height="2.44"/>
<rect x="375.17" y="964.96" width="8.78" height="2.44"/>
<rect x="383.95" y="964.96" width="8.78" height="2.44"/>
<rect x="392.73" y="963.6" width="8.78" height="3.8"/>
<rect x="401.51" y="963.6" width="8.78" height="3.8"/>
<rect x="410.3" y="965.17" width="8.78" height="2.23"/>
<rect x="419.08" y="963.39" width="8.78" height="4.01"/>
<rect x="427.86" y="963.39" width="8.78" height="4.01"/>
<rect x="436.64" y="965.17" width="8.78" height="2.23"/>
<rect x="445.43" y="965.17" width="8.78" height="2.23"/>
<rect x="454.21" y="965.17" width="8.78" height="2.23"/>
<rect x="462.99" y="965.17" width="8.78" height="2.23"/>
<rect x="471.77" y="965.17" width="8.78" height="2.23"/>
<rect x="480.56" y="965.17" width="8.78" height="2.23"/>
<rect x="489.34" y="965.17" width="8.78" height="2.23"/>
<rect x="498.12" y="965.17" width="8.78" height="2.23"/>
<rect x="506.9" y="965.17" width="8.78" height="2.23"/>
<rect x="515.69" y="965.17" width="8.78" height="2.23"/>
<rect x="524.47" y="965.17" width="8.78" height="2.23"/>
<rect x="533.25" y="963.6" width="8.78" height="3.8"/>
</g>
<polygon points="118.5,944.9 120.55,945.32 122.6,945.73 124.66,946.13 126.71,946.52 128.76,946.9 130.81,947.27 132.86,947.64 134.91,947.99 136.97,948.35 139.02,948.74 141.07,949.15 143.12,949.56 145.17,949.95 147.23,950.3 149.28,950.6 151.33,950.83 153.38,950.96 155.43,951 157.49,951 159.54,950.99 161.59,950.97 163.64,950.93 165.69,950.87 167.74,950.79 169.8,950.66 171.85,950.5 173.9,950.3 176.91,948.39 179.93,946.64 182.94,945.09 185.96,943.82 188.97,942.75 191.98,941.8 195,940.97 198.01,940.25 201.03,939.64 204.04,939.13 207.06,938.68 210.07,938.28 213.08,937.9 216.1,937.52 219.11,937.12 222.13,936.71 225.14,936.31 228.15,935.92 231.17,935.52 234.18,935.09 237.2,934.62 240.21,934.09 243.22,933.5 246.24,932.87 249.25,932.2 252.27,931.5 255.28,930.79 258.3,930.06 261.31,929.32 264.32,928.57 267.34,927.79 270.35,926.99 273.37,926.17 276.38,925.32 279.39,924.44 282.41,923.52 285.42,922.57 288.44,921.59 291.45,920.56 294.46,919.5 297.48,918.4 300.49,917.26 303.51,916.08 306.52,914.87 309.54,913.62 312.55,912.33 315.56,911 318.58,909.65 321.59,908.25 324.61,906.82 327.62,905.36 330.63,903.86 333.65,902.33 336.66,900.77 339.68,899.17 342.69,897.5 345.7,895.7 348.72,893.8 351.73,891.82 354.75,889.79 357.76,887.72 360.78,885.64 363.79,883.57 366.8,881.5 369.82,879.42 372.83,877.31 375.85,875.18 378.86,873 381.87,870.76 384.89,868.46 387.9,866.08 390.92,863.61 393.93,861.04 396.94,858.37 399.96,855.6 402.97,852.74 405.99,849.78 409,846.74 412.02,843.61 415.03,840.39 418.04,837.09 421.06,833.71 424.07,830.25 427.09,826.71 430.1,823.1 540.2,602.4 540.2,959.9 537.2,959.79 534.2,959.69 531.19,959.58 528.19,959.47 525.19,959.36 522.19,959.25 519.18,959.14 516.18,959.03 513.18,958.93 510.18,958.82 507.17,958.71 504.17,958.6 501.17,958.49 498.17,958.37 495.16,958.26 492.16,958.15 489.16,958.04 486.16,957.93 483.15,957.82 480.15,957.71 477.15,957.59 474.15,957.48 471.14,957.37 468.14,957.26 465.14,957.14 462.14,957.03 459.13,956.91 456.13,956.8 453.13,956.69 450.13,956.57 447.12,956.46 444.12,956.34 441.12,956.23 438.12,956.11 435.11,956 432.11,955.88 429.11,955.77 426.11,955.65 423.1,955.53 420.1,955.41 417.1,955.28 414.1,955.16 411.09,955.03 408.09,954.9 405.09,954.77 402.09,954.64 399.08,954.51 396.08,954.39 393.08,954.26 390.08,954.13 387.07,954 384.07,953.87 381.07,953.74 378.07,953.61 375.06,953.49 372.06,953.36 369.06,953.24 366.06,953.12 363.05,953.01 360.05,952.89 357.05,952.78 354.05,952.67 351.05,952.56 348.04,952.46 345.04,952.36 342.04,952.26 339.04,952.17 336.03,952.08 333.03,952 330.03,951.92 327.03,951.84 324.02,951.76 321.02,951.69 318.02,951.62 315.02,951.55 312.01,951.48 309.01,951.41 306.01,951.34 303.01,951.27 300,951.2 297,951.13 294,951.06 291,950.99 287.99,950.92 284.99,950.84 281.99,950.76 278.99,950.68 275.98,950.6 272.98,950.51 269.98,950.41 266.98,950.3 263.97,950.19 260.97,950.08 257.97,949.97 254.97,949.86 251.96,949.76 248.96,949.67 245.96,949.59 242.96,949.52 239.95,949.47 236.95,949.41 233.95,949.36 230.95,949.31 227.94,949.26 224.94,949.21 221.94,949.17 218.94,949.13 215.93,949.09 212.93,949.06 209.93,949.04 206.93,949.02 203.92,949.01 200.92,949 197.92,949.01 194.92,949.07 191.91,949.17 188.91,949.31 185.91,949.47 182.91,949.66 179.9,949.87 176.9,950.08 173.9,950.3 171.85,950.8 169.8,951.29 167.74,951.79 165.69,952.28 163.64,952.77 161.59,953.26 159.54,953.75 157.49,954.24 155.43,954.72 153.38,955.21 151.33,955.69 149.28,956.17 147.23,956.65 145.17,957.12 143.12,957.6 141.07,958.07 139.02,958.55 136.97,959.02 134.91,959.49 132.86,959.96 130.81,960.43 128.76,960.89 126.71,961.36 124.66,961.82 122.6,962.28 120.55,962.74 118.5,963.2" fill="#4f95c3" fill-opacity="0.5" stroke="#4f95c3" stroke-opacity="0.35" stroke-width="1" stroke-linejoin="round"/>
<polyline points="118.5,955.5 120.55,955.44 122.6,955.37 124.66,955.29 126.71,955.2 128.76,955.09 130.81,954.97 132.86,954.84 134.91,954.71 136.97,954.56 139.02,954.41 141.07,954.25 143.12,954.08 145.17,953.91 147.23,953.74 149.28,953.56 151.33,953.38 153.38,953.18 155.43,952.95 157.49,952.71 159.54,952.45 161.59,952.18 163.64,951.89 165.69,951.59 167.74,951.28 169.8,950.96 171.85,950.63 173.9,950.3 176.91,949.39 179.93,948.5 182.94,947.65 185.96,946.83 188.97,946.08 191.98,945.4 195,944.8 198.01,944.3 201.03,943.9 204.04,943.57 207.06,943.27 210.07,943.01 213.08,942.77 216.1,942.56 219.11,942.36 222.13,942.17 225.14,941.98 228.15,941.8 231.17,941.61 234.18,941.4 237.2,941.19 240.21,940.95 243.22,940.67 246.24,940.35 249.25,940.02 252.27,939.71 255.28,939.47 258.3,939.27 261.31,939.08 264.32,938.91 267.34,938.75 270.35,938.59 273.37,938.45 276.38,938.31 279.39,938.18 282.41,938.05 285.42,937.93 288.44,937.82 291.45,937.71 294.46,937.6 297.48,937.49 300.49,937.39 303.51,937.28 306.52,937.17 309.54,937.07 312.55,936.96 315.56,936.84 318.58,936.73 321.59,936.6 324.61,936.48 327.62,936.34 330.63,936.2 333.65,936.05 336.66,935.89 339.68,935.72 342.69,935.54 345.7,935.35 348.72,935.16 351.73,934.97 354.75,934.76 357.76,934.55 360.78,934.33 363.79,934.11 366.8,933.88 369.82,933.65 372.83,933.41 375.85,933.17 378.86,932.92 381.87,932.66 384.89,932.4 387.9,932.14 390.92,931.87 393.93,931.6 396.94,931.32 399.96,931.04 402.97,930.75 405.99,930.46 409,930.17 412.02,929.87 415.03,929.56 418.04,929.26 421.06,928.95 424.07,928.64 427.09,928.32 430.1,928 540.2,915.7" fill="none" stroke="#4f95c3" stroke-width="3.8" stroke-opacity="0.52" stroke-linejoin="round"/>
<line x1="89.9" y1="950.3" x2="561.8" y2="950.3" stroke="#dd0a0a" stroke-width="2.8" stroke-dasharray="11.2 10.5"/>
<line x1="173.9" y1="993.8" x2="173.9" y2="583.2" stroke="#dd0a0a" stroke-width="2.8" stroke-dasharray="11.2 10.5"/>
<text transform="translate(173.95 990.8) scale(1.072 1)" font-family='"Liberation Sans", "DejaVu Sans", sans-serif' font-size="27.8" fill="#111" stroke="#111" stroke-width="0.4">1.141</text>
</g>
<text x="224" y="636.9" font-family='"Liberation Serif", "DejaVu Serif", serif' font-size="32.0" textLength="269.8" lengthAdjust="spacing" fill="#000" stroke="#000" stroke-width="0.35">P for overall = 0.002</text>
<text x="224" y="671.4" font-family='"Liberation Serif", "DejaVu Serif", serif' font-size="32.0" textLength="302.8" lengthAdjust="spacing" fill="#000" stroke="#000" stroke-width="0.35">P for nonlinear = 0.225</text>
<rect x="90.9" y="583.2" width="470.9" height="409.8" fill="none" stroke="#333333" stroke-width="1.7"/>
<g stroke="#1a1a1a" stroke-width="2.2">
<line x1="84.7" y1="967.4" x2="90.9" y2="967.4"/>
<line x1="84.7" y1="879.9" x2="90.9" y2="879.9"/>
<line x1="84.7" y1="792.4" x2="90.9" y2="792.4"/>
<line x1="84.7" y1="704.8" x2="90.9" y2="704.8"/>
<line x1="84.7" y1="617.3" x2="90.9" y2="617.3"/>
<line x1="561.8" y1="993.3" x2="568" y2="993.3"/>
<line x1="561.8" y1="896.3" x2="568" y2="896.3"/>
<line x1="561.8" y1="799.3" x2="568" y2="799.3"/>
<line x1="561.8" y1="702.3" x2="568" y2="702.3"/>
<line x1="561.8" y1="605.3" x2="568" y2="605.3"/>
<line x1="106.8" y1="993" x2="106.8" y2="999.2"/>
<line x1="223.8" y1="993" x2="223.8" y2="999.2"/>
<line x1="340.8" y1="993" x2="340.8" y2="999.2"/>
<line x1="457.8" y1="993" x2="457.8" y2="999.2"/>
</g>
<g font-family='"Liberation Serif", "DejaVu Serif", serif' font-size="33.6" fill="#222">
<text x="79.1" y="976.6" text-anchor="end">0</text>
<text x="79.1" y="889.1" text-anchor="end">5</text>
<text x="79.1" y="801.6" text-anchor="end">10</text>
<text x="79.1" y="714" text-anchor="end">15</text>
<text x="79.1" y="626.5" text-anchor="end">20</text>
<text x="572.4" y="1003.5">0.00</text>
<text x="572.4" y="906.5">0.25</text>
<text x="572.4" y="809.5">0.50</text>
<text x="572.4" y="712.5">0.75</text>
<text x="572.4" y="615.5">1.00</text>
<text x="106.8" y="1024.1" text-anchor="middle">0</text>
<text x="223.8" y="1024.1" text-anchor="middle">2</text>
<text x="340.8" y="1024.1" text-anchor="middle">4</text>
<text x="457.8" y="1024.1" text-anchor="middle">6</text>
</g>
<g font-family='"Liberation Serif", "DejaVu Serif", serif' font-size="32.0" fill="#000" stroke="#000" stroke-width="0.3">
<text transform="translate(326.5 1057.6) scale(0.99 1.05)" text-anchor="middle">SHR</text>
<text transform="translate(35 788.7) rotate(-90) scale(1.008 1.05)" text-anchor="middle">HR [95%CI]</text>
<text transform="translate(642 785.8) rotate(90) scale(1.015 0.97)" text-anchor="middle">density</text>
</g>
<text x="90.9" y="566.2" font-family='"Liberation Serif", "DejaVu Serif", serif' font-size="27.7" fill="#000" stroke="#000" stroke-width="0.3" textLength="167.8" lengthAdjust="spacing">RCS (model 1)</text>
<text transform="translate(12.5 1024.1) scale(0.94 1)" font-family='"Liberation Sans", "DejaVu Sans", sans-serif' font-size="68.6" fill="#000" stroke="#000" stroke-width="0.7">D</text>
</g>
<g class="panel" id="panel-E">
<clipPath id="clipE"><rect x="761.3" y="583.1" width="471.4" height="409.9"/></clipPath>
<g clip-path="url(#clipE)">
<g fill="#ffe9f0" stroke="#000" stroke-width="2.3" stroke-linejoin="miter">
<rect x="782.43" y="963.16" width="8.76" height="6.14"/>
<rect x="791.19" y="946.68" width="8.76" height="22.62"/>
<rect x="799.96" y="919.91" width="8.76" height="49.39"/>
<rect x="808.72" y="869.21" width="8.76" height="100.09"/>
<rect x="817.48" y="733.28" width="8.76" height="236.02"/>
<rect x="826.25" y="635.02" width="8.76" height="334.28"/>
<rect x="835.01" y="601.64" width="8.76" height="367.66"/>
<rect x="843.77" y="635.02" width="8.76" height="334.28"/>
<rect x="852.54" y="740.73" width="8.76" height="228.57"/>
<rect x="861.3" y="799.51" width="8.76" height="169.79"/>
<rect x="870.06" y="854.94" width="8.76" height="114.36"/>
<rect x="878.82" y="874.99" width="8.76" height="94.31"/>
<rect x="887.59" y="907.32" width="8.76" height="61.98"/>
<rect x="896.35" y="913.09" width="8.76" height="56.21"/>
<rect x="905.11" y="940.7" width="8.76" height="28.6"/>
<rect x="913.88" y="948.99" width="8.76" height="20.31"/>
<rect x="922.64" y="959.07" width="8.76" height="10.23"/>
<rect x="931.4" y="949.3" width="8.76" height="20"/>
<rect x="940.17" y="952.45" width="8.76" height="16.85"/>
<rect x="948.93" y="959.59" width="8.76" height="9.71"/>
<rect x="957.69" y="958.44" width="8.76" height="10.86"/>
<rect x="966.45" y="962.22" width="8.76" height="7.08"/>
<rect x="975.22" y="963.16" width="8.76" height="6.14"/>
<rect x="983.98" y="963.16" width="8.76" height="6.14"/>
<rect x="992.74" y="964" width="8.76" height="5.3"/>
<rect x="1001.51" y="965.05" width="8.76" height="4.25"/>
<rect x="1010.27" y="965.78" width="8.76" height="3.52"/>
<rect x="1019.03" y="965.05" width="8.76" height="4.25"/>
<rect x="1027.8" y="966.52" width="8.76" height="2.78"/>
<rect x="1036.56" y="966.52" width="8.76" height="2.78"/>
<rect x="1045.32" y="966.52" width="8.76" height="2.78"/>
<rect x="1054.08" y="966.52" width="8.76" height="2.78"/>
<rect x="1062.85" y="965.15" width="8.76" height="4.15"/>
<rect x="1071.61" y="965.15" width="8.76" height="4.15"/>
<rect x="1080.37" y="966.73" width="8.76" height="2.57"/>
<rect x="1089.14" y="964.94" width="8.76" height="4.36"/>
<rect x="1097.9" y="964.94" width="8.76" height="4.36"/>
<rect x="1106.66" y="966.73" width="8.76" height="2.57"/>
<rect x="1115.43" y="966.73" width="8.76" height="2.57"/>
<rect x="1124.19" y="966.73" width="8.76" height="2.57"/>
<rect x="1132.95" y="966.73" width="8.76" height="2.57"/>
<rect x="1141.71" y="966.73" width="8.76" height="2.57"/>
<rect x="1150.48" y="966.73" width="8.76" height="2.57"/>
<rect x="1159.24" y="966.73" width="8.76" height="2.57"/>
<rect x="1168" y="966.73" width="8.76" height="2.57"/>
<rect x="1176.77" y="966.73" width="8.76" height="2.57"/>
<rect x="1185.53" y="966.73" width="8.76" height="2.57"/>
<rect x="1194.29" y="966.73" width="8.76" height="2.57"/>
<rect x="1203.06" y="965.15" width="8.76" height="4.15"/>
</g>
<polygon points="789.4,950 791.44,950.63 793.47,951.24 795.51,951.83 797.55,952.39 799.59,952.92 801.62,953.41 803.66,953.87 805.7,954.28 807.73,954.65 809.77,954.97 811.81,955.26 813.84,955.55 815.88,955.83 817.92,956.1 819.96,956.35 821.99,956.57 824.03,956.75 826.07,956.89 828.1,956.97 830.14,957 832.18,956.98 834.21,956.92 836.25,956.81 838.29,956.67 840.33,956.49 842.36,956.27 844.4,956 847.41,954.86 850.43,953.79 853.44,952.8 856.45,951.91 859.46,951.13 862.48,950.43 865.49,949.78 868.5,949.19 871.52,948.63 874.53,948.09 877.54,947.58 880.56,947.1 883.57,946.64 886.58,946.2 889.59,945.78 892.61,945.38 895.62,945.01 898.63,944.67 901.65,944.33 904.66,943.96 907.67,943.53 910.68,943.04 913.7,942.48 916.71,941.86 919.72,941.22 922.74,940.55 925.75,939.89 928.76,939.23 931.78,938.57 934.79,937.9 937.8,937.23 940.81,936.54 943.83,935.84 946.84,935.12 949.85,934.38 952.87,933.62 955.88,932.84 958.89,932.02 961.9,931.17 964.92,930.29 967.93,929.37 970.94,928.39 973.96,927.35 976.97,926.25 979.98,925.1 983,923.9 986.01,922.67 989.02,921.4 992.03,920.1 995.05,918.78 998.06,917.44 1001.07,916.1 1004.09,914.74 1007.1,913.39 1010.11,912.05 1013.12,910.72 1016.14,909.37 1019.15,907.98 1022.16,906.51 1025.18,904.93 1028.19,903.23 1031.2,901.45 1034.22,899.59 1037.23,897.66 1040.24,895.64 1043.25,893.56 1046.27,891.42 1049.28,889.21 1052.29,886.95 1055.31,884.63 1058.32,882.26 1061.33,879.85 1064.34,877.4 1067.36,874.87 1070.37,872.25 1073.38,869.54 1076.4,866.72 1079.41,863.79 1082.42,860.74 1085.44,857.56 1088.45,854.25 1091.46,850.66 1094.47,846.8 1097.49,842.72 1100.5,838.5 1210.5,601.75 1210.5,961.5 1207.5,961.43 1204.5,961.37 1201.5,961.3 1198.5,961.23 1195.5,961.17 1192.5,961.1 1189.49,961.03 1186.49,960.96 1183.49,960.9 1180.49,960.83 1177.49,960.76 1174.49,960.69 1171.49,960.62 1168.49,960.55 1165.49,960.48 1162.49,960.41 1159.49,960.34 1156.49,960.27 1153.48,960.2 1150.48,960.13 1147.48,960.06 1144.48,959.99 1141.48,959.91 1138.48,959.84 1135.48,959.77 1132.48,959.7 1129.48,959.63 1126.48,959.55 1123.48,959.48 1120.48,959.41 1117.47,959.33 1114.47,959.26 1111.47,959.18 1108.47,959.11 1105.47,959.04 1102.47,958.96 1099.47,958.89 1096.47,958.81 1093.47,958.73 1090.47,958.65 1087.47,958.57 1084.47,958.48 1081.46,958.4 1078.46,958.31 1075.46,958.22 1072.46,958.13 1069.46,958.04 1066.46,957.95 1063.46,957.87 1060.46,957.78 1057.46,957.69 1054.46,957.6 1051.46,957.51 1048.46,957.43 1045.45,957.34 1042.45,957.26 1039.45,957.18 1036.45,957.1 1033.45,957.03 1030.45,956.96 1027.45,956.89 1024.45,956.82 1021.45,956.76 1018.45,956.7 1015.45,956.64 1012.45,956.59 1009.45,956.54 1006.44,956.49 1003.44,956.44 1000.44,956.39 997.44,956.34 994.44,956.29 991.44,956.24 988.44,956.19 985.44,956.14 982.44,956.09 979.44,956.04 976.44,955.99 973.44,955.94 970.43,955.9 967.43,955.85 964.43,955.81 961.43,955.77 958.43,955.73 955.43,955.69 952.43,955.66 949.43,955.62 946.43,955.59 943.43,955.56 940.43,955.53 937.43,955.5 934.42,955.48 931.42,955.46 928.42,955.44 925.42,955.43 922.42,955.42 919.42,955.41 916.42,955.4 913.42,955.4 910.42,955.4 907.42,955.4 904.42,955.4 901.42,955.41 898.41,955.41 895.41,955.42 892.41,955.42 889.41,955.43 886.41,955.44 883.41,955.45 880.41,955.46 877.41,955.47 874.41,955.48 871.41,955.49 868.41,955.51 865.41,955.54 862.4,955.58 859.4,955.64 856.4,955.7 853.4,955.77 850.4,955.84 847.4,955.92 844.4,956 842.36,956.31 840.33,956.62 838.29,956.94 836.25,957.26 834.21,957.59 832.18,957.92 830.14,958.25 828.1,958.6 826.07,958.94 824.03,959.29 821.99,959.65 819.96,960.01 817.92,960.37 815.88,960.74 813.84,961.12 811.81,961.5 809.77,961.88 807.73,962.27 805.7,962.67 803.66,963.07 801.62,963.47 799.59,963.88 797.55,964.3 795.51,964.71 793.47,965.14 791.44,965.57 789.4,966" fill="#734773" fill-opacity="0.5" stroke="#734773" stroke-opacity="0.35" stroke-width="1" stroke-linejoin="round"/>
<polyline points="789.4,960 791.44,959.96 793.47,959.9 795.51,959.83 797.55,959.76 799.59,959.68 801.62,959.59 803.66,959.49 805.7,959.38 807.73,959.27 809.77,959.15 811.81,959.03 813.84,958.9 815.88,958.77 817.92,958.64 819.96,958.5 821.99,958.36 824.03,958.2 826.07,958.03 828.1,957.84 830.14,957.64 832.18,957.43 834.21,957.21 836.25,956.98 838.29,956.75 840.33,956.5 842.36,956.25 844.4,956 847.41,955.35 850.43,954.72 853.44,954.1 856.45,953.52 859.46,952.98 862.48,952.48 865.49,952.04 868.5,951.66 871.52,951.35 874.53,951.07 877.54,950.81 880.56,950.58 883.57,950.36 886.58,950.16 889.59,949.97 892.61,949.79 895.62,949.61 898.63,949.44 901.65,949.28 904.66,949.1 907.67,948.93 910.68,948.75 913.7,948.55 916.71,948.36 919.72,948.17 922.74,947.99 925.75,947.81 928.76,947.63 931.78,947.45 934.79,947.28 937.8,947.11 940.81,946.94 943.83,946.77 946.84,946.6 949.85,946.43 952.87,946.26 955.88,946.09 958.89,945.93 961.9,945.76 964.92,945.58 967.93,945.41 970.94,945.23 973.96,945.06 976.97,944.88 979.98,944.69 983,944.5 986.01,944.31 989.02,944.12 992.03,943.91 995.05,943.71 998.06,943.5 1001.07,943.28 1004.09,943.06 1007.1,942.83 1010.11,942.59 1013.12,942.35 1016.14,942.1 1019.15,941.84 1022.16,941.57 1025.18,941.3 1028.19,941.02 1031.2,940.73 1034.22,940.44 1037.23,940.14 1040.24,939.83 1043.25,939.52 1046.27,939.2 1049.28,938.88 1052.29,938.55 1055.31,938.21 1058.32,937.87 1061.33,937.52 1064.34,937.17 1067.36,936.81 1070.37,936.45 1073.38,936.08 1076.4,935.71 1079.41,935.34 1082.42,934.96 1085.44,934.57 1088.45,934.19 1091.46,933.8 1094.47,933.4 1097.49,933 1100.5,932.6 1210.5,917.25" fill="none" stroke="#734773" stroke-width="3.8" stroke-opacity="0.52" stroke-linejoin="round"/>
<line x1="759.4" y1="956.1" x2="1232.7" y2="956.1" stroke="#dd0a0a" stroke-width="2.8" stroke-dasharray="11.2 10.5"/>
<line x1="844.6" y1="993.8" x2="844.6" y2="583.1" stroke="#dd0a0a" stroke-width="2.8" stroke-dasharray="11.2 10.5"/>
<text transform="translate(844.65 990.1) scale(1.072 1)" font-family='"Liberation Sans", "DejaVu Sans", sans-serif' font-size="27.8" fill="#111" stroke="#111" stroke-width="0.4">1.141</text>
</g>
<text x="894.4" y="643.9" font-family='"Liberation Serif", "DejaVu Serif", serif' font-size="32.0" textLength="269.2" lengthAdjust="spacing" fill="#000" stroke="#000" stroke-width="0.35">P for overall = 0.008</text>
<text x="894.4" y="678.4" font-family='"Liberation Serif", "DejaVu Serif", serif' font-size="32.0" textLength="304.2" lengthAdjust="spacing" fill="#000" stroke="#000" stroke-width="0.35">P for nonlinear = 0.560</text>
<rect x="761.3" y="583.1" width="471.4" height="409.9" fill="none" stroke="#333333" stroke-width="1.7"/>
<g stroke="#1a1a1a" stroke-width="2.2">
<line x1="755.1" y1="969.3" x2="761.3" y2="969.3"/>
<line x1="755.1" y1="836.3" x2="761.3" y2="836.3"/>
<line x1="755.1" y1="703.4" x2="761.3" y2="703.4"/>
<line x1="1232.7" y1="993.3" x2="1238.9" y2="993.3"/>
<line x1="1232.7" y1="896.3" x2="1238.9" y2="896.3"/>
<line x1="1232.7" y1="799.3" x2="1238.9" y2="799.3"/>
<line x1="1232.7" y1="702.3" x2="1238.9" y2="702.3"/>
<line x1="1232.7" y1="605.3" x2="1238.9" y2="605.3"/>
<line x1="777.75" y1="993" x2="777.75" y2="999.2"/>
<line x1="894.59" y1="993" x2="894.59" y2="999.2"/>
<line x1="1011.43" y1="993" x2="1011.43" y2="999.2"/>
<line x1="1128.27" y1="993" x2="1128.27" y2="999.2"/>
</g>
<g font-family='"Liberation Serif", "DejaVu Serif", serif' font-size="33.6" fill="#222">
<text x="749.5" y="978.5" text-anchor="end">0</text>
<text x="749.5" y="845.5" text-anchor="end">10</text>
<text x="749.5" y="712.6" text-anchor="end">20</text>
<text x="1243.3" y="1003.5">0.00</text>
<text x="1243.3" y="906.5">0.25</text>
<text x="1243.3" y="809.5">0.50</text>
<text x="1243.3" y="712.5">0.75</text>
<text x="1243.3" y="615.5">1.00</text>
<text x="777.75" y="1024.1" text-anchor="middle">0</text>
<text x="894.59" y="1024.1" text-anchor="middle">2</text>
<text x="1011.43" y="1024.1" text-anchor="middle">4</text>
<text x="1128.27" y="1024.1" text-anchor="middle">6</text>
</g>
<g font-family='"Liberation Serif", "DejaVu Serif", serif' font-size="32.0" fill="#000" stroke="#000" stroke-width="0.3">
<text transform="translate(997 1057.6) scale(0.99 1.05)" text-anchor="middle">SHR</text>
<text transform="translate(705 788.7) rotate(-90) scale(1.008 1.05)" text-anchor="middle">HR [95%CI]</text>
<text transform="translate(1312.5 786.3) rotate(90) scale(1.015 0.97)" text-anchor="middle">density</text>
</g>
<text x="761.3" y="565.8" font-family='"Liberation Serif", "DejaVu Serif", serif' font-size="27.7" fill="#000" stroke="#000" stroke-width="0.3" textLength="167.8" lengthAdjust="spacing">RCS (model 2)</text>
<text transform="translate(673.5 1023.5) scale(0.94 1)" font-family='"Liberation Sans", "DejaVu Sans", sans-serif' font-size="68.6" fill="#000" stroke="#000" stroke-width="0.7">E</text>
</g>
<g class="panel" id="panel-F">
<clipPath id="clipF"><rect x="1431.8" y="583.1" width="470.8" height="409.9"/></clipPath>
<g clip-path="url(#clipF)">
<g fill="#bff4e4" stroke="#000" stroke-width="2.3" stroke-linejoin="miter">
<rect x="1452.88" y="964.88" width="8.76" height="5.72"/>
<rect x="1461.64" y="948.32" width="8.76" height="22.28"/>
<rect x="1470.41" y="921.42" width="8.76" height="49.18"/>
<rect x="1479.17" y="870.48" width="8.76" height="100.12"/>
<rect x="1487.93" y="733.9" width="8.76" height="236.7"/>
<rect x="1496.7" y="635.18" width="8.76" height="335.42"/>
<rect x="1505.46" y="601.64" width="8.76" height="368.96"/>
<rect x="1514.22" y="635.18" width="8.76" height="335.42"/>
<rect x="1522.99" y="741.38" width="8.76" height="229.22"/>
<rect x="1531.75" y="800.45" width="8.76" height="170.15"/>
<rect x="1540.51" y="856.14" width="8.76" height="114.46"/>
<rect x="1549.27" y="876.28" width="8.76" height="94.32"/>
<rect x="1558.04" y="908.77" width="8.76" height="61.83"/>
<rect x="1566.8" y="914.57" width="8.76" height="56.03"/>
<rect x="1575.56" y="942.3" width="8.76" height="28.3"/>
<rect x="1584.33" y="950.64" width="8.76" height="19.96"/>
<rect x="1593.09" y="960.76" width="8.76" height="9.84"/>
<rect x="1601.85" y="950.95" width="8.76" height="19.65"/>
<rect x="1610.62" y="954.12" width="8.76" height="16.48"/>
<rect x="1619.38" y="961.29" width="8.76" height="9.31"/>
<rect x="1628.14" y="960.13" width="8.76" height="10.47"/>
<rect x="1636.9" y="963.93" width="8.76" height="6.67"/>
<rect x="1645.67" y="964.88" width="8.76" height="5.72"/>
<rect x="1654.43" y="964.88" width="8.76" height="5.72"/>
<rect x="1663.19" y="965.72" width="8.76" height="4.88"/>
<rect x="1671.96" y="966.77" width="8.76" height="3.83"/>
<rect x="1680.72" y="967.51" width="8.76" height="3.09"/>
<rect x="1689.48" y="966.77" width="8.76" height="3.83"/>
<rect x="1698.25" y="968.25" width="8.76" height="2.35"/>
<rect x="1707.01" y="968.25" width="8.76" height="2.35"/>
<rect x="1715.77" y="968.25" width="8.76" height="2.35"/>
<rect x="1724.53" y="968.25" width="8.76" height="2.35"/>
<rect x="1733.3" y="966.88" width="8.76" height="3.72"/>
<rect x="1742.06" y="966.88" width="8.76" height="3.72"/>
<rect x="1750.82" y="968.46" width="8.76" height="2.14"/>
<rect x="1759.59" y="966.67" width="8.76" height="3.93"/>
<rect x="1768.35" y="966.67" width="8.76" height="3.93"/>
<rect x="1777.11" y="968.46" width="8.76" height="2.14"/>
<rect x="1785.88" y="968.46" width="8.76" height="2.14"/>
<rect x="1794.64" y="968.46" width="8.76" height="2.14"/>
<rect x="1803.4" y="968.46" width="8.76" height="2.14"/>
<rect x="1812.16" y="968.46" width="8.76" height="2.14"/>
<rect x="1820.93" y="968.46" width="8.76" height="2.14"/>
<rect x="1829.69" y="968.46" width="8.76" height="2.14"/>
<rect x="1838.45" y="968.46" width="8.76" height="2.14"/>
<rect x="1847.22" y="968.46" width="8.76" height="2.14"/>
<rect x="1855.98" y="968.46" width="8.76" height="2.14"/>
<rect x="1864.74" y="968.46" width="8.76" height="2.14"/>
<rect x="1873.51" y="966.88" width="8.76" height="3.72"/>
</g>
<polygon points="1459.9,951.5 1461.95,952.28 1464,953.04 1466.04,953.77 1468.09,954.47 1470.14,955.13 1472.19,955.74 1474.24,956.3 1476.29,956.83 1478.33,957.38 1480.38,957.94 1482.43,958.49 1484.48,959.01 1486.53,959.48 1488.57,959.88 1490.62,960.2 1492.67,960.41 1494.72,960.5 1496.77,960.5 1498.81,960.5 1500.86,960.48 1502.91,960.46 1504.96,960.42 1507.01,960.35 1509.06,960.26 1511.1,960.15 1513.15,959.99 1515.2,959.8 1518.21,958.79 1521.22,957.85 1524.23,956.97 1527.24,956.2 1530.25,955.55 1533.26,954.99 1536.27,954.49 1539.28,954.03 1542.28,953.61 1545.29,953.22 1548.3,952.84 1551.31,952.48 1554.32,952.16 1557.33,951.87 1560.34,951.6 1563.35,951.32 1566.36,951.04 1569.37,950.72 1572.38,950.35 1575.39,949.93 1578.4,949.45 1581.41,948.94 1584.42,948.39 1587.43,947.81 1590.44,947.2 1593.44,946.58 1596.45,945.95 1599.46,945.29 1602.47,944.61 1605.48,943.9 1608.49,943.17 1611.5,942.42 1614.51,941.65 1617.52,940.85 1620.53,940.04 1623.54,939.2 1626.55,938.35 1629.56,937.48 1632.57,936.59 1635.58,935.69 1638.59,934.77 1641.6,933.83 1644.6,932.85 1647.61,931.85 1650.62,930.82 1653.63,929.76 1656.64,928.68 1659.65,927.58 1662.66,926.46 1665.67,925.31 1668.68,924.14 1671.69,922.96 1674.7,921.76 1677.71,920.54 1680.72,919.3 1683.73,918.05 1686.74,916.75 1689.75,915.37 1692.76,913.89 1695.76,912.29 1698.77,910.63 1701.78,908.91 1704.79,907.12 1707.8,905.26 1710.81,903.33 1713.82,901.35 1716.83,899.29 1719.84,897.18 1722.85,895 1725.86,892.76 1728.87,890.46 1731.88,888.09 1734.89,885.66 1737.9,883.16 1740.91,880.53 1743.92,877.78 1746.92,874.91 1749.93,871.93 1752.94,868.84 1755.95,865.66 1758.96,862.38 1761.97,859.02 1764.98,855.58 1767.99,852.07 1771,848.5 1881,602.25 1881,962.25 1877.98,962.21 1874.95,962.18 1871.93,962.14 1868.91,962.11 1865.88,962.07 1862.86,962.04 1859.84,962 1856.81,961.96 1853.79,961.93 1850.77,961.89 1847.75,961.86 1844.72,961.82 1841.7,961.78 1838.68,961.75 1835.65,961.71 1832.63,961.67 1829.61,961.63 1826.58,961.6 1823.56,961.56 1820.54,961.52 1817.51,961.49 1814.49,961.45 1811.47,961.41 1808.44,961.37 1805.42,961.34 1802.4,961.3 1799.38,961.26 1796.35,961.22 1793.33,961.18 1790.31,961.15 1787.28,961.11 1784.26,961.07 1781.24,961.03 1778.21,960.99 1775.19,960.95 1772.17,960.91 1769.14,960.88 1766.12,960.84 1763.1,960.8 1760.07,960.75 1757.05,960.71 1754.03,960.67 1751,960.62 1747.98,960.58 1744.96,960.53 1741.94,960.49 1738.91,960.44 1735.89,960.4 1732.87,960.35 1729.84,960.31 1726.82,960.26 1723.8,960.22 1720.77,960.18 1717.75,960.13 1714.73,960.09 1711.7,960.05 1708.68,960.01 1705.66,959.97 1702.63,959.93 1699.61,959.89 1696.59,959.86 1693.57,959.82 1690.54,959.79 1687.52,959.76 1684.5,959.73 1681.47,959.7 1678.45,959.68 1675.43,959.65 1672.4,959.62 1669.38,959.6 1666.36,959.57 1663.33,959.54 1660.31,959.52 1657.29,959.49 1654.26,959.47 1651.24,959.44 1648.22,959.41 1645.2,959.39 1642.17,959.36 1639.15,959.34 1636.13,959.32 1633.1,959.29 1630.08,959.27 1627.06,959.25 1624.03,959.23 1621.01,959.21 1617.99,959.2 1614.96,959.18 1611.94,959.17 1608.92,959.15 1605.89,959.14 1602.87,959.13 1599.85,959.12 1596.82,959.11 1593.8,959.11 1590.78,959.1 1587.76,959.1 1584.73,959.1 1581.71,959.1 1578.69,959.11 1575.66,959.11 1572.64,959.12 1569.62,959.13 1566.59,959.14 1563.57,959.15 1560.55,959.17 1557.52,959.18 1554.5,959.2 1551.48,959.22 1548.45,959.24 1545.43,959.26 1542.41,959.28 1539.39,959.3 1536.36,959.34 1533.34,959.38 1530.32,959.44 1527.29,959.5 1524.27,959.57 1521.25,959.64 1518.22,959.72 1515.2,959.8 1513.15,960.1 1511.1,960.4 1509.06,960.7 1507.01,961 1504.96,961.29 1502.91,961.59 1500.86,961.88 1498.81,962.17 1496.77,962.46 1494.72,962.74 1492.67,963.03 1490.62,963.31 1488.57,963.6 1486.53,963.88 1484.48,964.16 1482.43,964.43 1480.38,964.71 1478.33,964.99 1476.29,965.26 1474.24,965.53 1472.19,965.8 1470.14,966.07 1468.09,966.34 1466.04,966.61 1464,966.87 1461.95,967.14 1459.9,967.4" fill="#057335" fill-opacity="0.5" stroke="#057335" stroke-opacity="0.35" stroke-width="1" stroke-linejoin="round"/>
<polyline points="1459.9,960.6 1461.95,960.77 1464,960.93 1466.04,961.06 1468.09,961.17 1470.14,961.27 1472.19,961.35 1474.24,961.42 1476.29,961.47 1478.33,961.52 1480.38,961.55 1482.43,961.57 1484.48,961.59 1486.53,961.6 1488.57,961.6 1490.62,961.6 1492.67,961.57 1494.72,961.52 1496.77,961.44 1498.81,961.33 1500.86,961.2 1502.91,961.05 1504.96,960.88 1507.01,960.69 1509.06,960.49 1511.1,960.27 1513.15,960.04 1515.2,959.8 1518.21,959.35 1521.22,958.91 1524.23,958.48 1527.24,958.07 1530.25,957.68 1533.26,957.31 1536.27,956.98 1539.28,956.67 1542.28,956.39 1545.29,956.13 1548.3,955.89 1551.31,955.65 1554.32,955.43 1557.33,955.22 1560.34,955.01 1563.35,954.82 1566.36,954.63 1569.37,954.44 1572.38,954.25 1575.39,954.07 1578.4,953.88 1581.41,953.69 1584.42,953.5 1587.43,953.31 1590.44,953.12 1593.44,952.93 1596.45,952.74 1599.46,952.56 1602.47,952.38 1605.48,952.21 1608.49,952.03 1611.5,951.86 1614.51,951.69 1617.52,951.52 1620.53,951.36 1623.54,951.19 1626.55,951.02 1629.56,950.86 1632.57,950.69 1635.58,950.52 1638.59,950.35 1641.6,950.18 1644.6,950 1647.61,949.83 1650.62,949.65 1653.63,949.47 1656.64,949.28 1659.65,949.1 1662.66,948.9 1665.67,948.71 1668.68,948.51 1671.69,948.3 1674.7,948.09 1677.71,947.87 1680.72,947.65 1683.73,947.42 1686.74,947.18 1689.75,946.94 1692.76,946.7 1695.76,946.45 1698.77,946.19 1701.78,945.93 1704.79,945.66 1707.8,945.4 1710.81,945.12 1713.82,944.84 1716.83,944.56 1719.84,944.27 1722.85,943.98 1725.86,943.68 1728.87,943.38 1731.88,943.08 1734.89,942.77 1737.9,942.46 1740.91,942.14 1743.92,941.82 1746.92,941.5 1749.93,941.17 1752.94,940.84 1755.95,940.51 1758.96,940.17 1761.97,939.84 1764.98,939.49 1767.99,939.15 1771,938.8 1881,918.5" fill="none" stroke="#057335" stroke-width="3.8" stroke-opacity="0.52" stroke-linejoin="round"/>
<line x1="1429.7" y1="959.8" x2="1902.6" y2="959.8" stroke="#dd0a0a" stroke-width="2.8" stroke-dasharray="11.2 10.5"/>
<line x1="1515.2" y1="993.8" x2="1515.2" y2="583.1" stroke="#dd0a0a" stroke-width="2.8" stroke-dasharray="11.2 10.5"/>
<text transform="translate(1516.65 994.5) scale(1.072 1)" font-family='"Liberation Sans", "DejaVu Sans", sans-serif' font-size="27.8" fill="#111" stroke="#111" stroke-width="0.4">1.141</text>
</g>
<text x="1565.5" y="644" font-family='"Liberation Serif", "DejaVu Serif", serif' font-size="32.0" textLength="268" lengthAdjust="spacing" fill="#000" stroke="#000" stroke-width="0.35">P for overall = 0.017</text>
<text x="1565.5" y="679" font-family='"Liberation Serif", "DejaVu Serif", serif' font-size="32.0" textLength="303" lengthAdjust="spacing" fill="#000" stroke="#000" stroke-width="0.35">P for nonlinear = 0.699</text>
<rect x="1431.8" y="583.1" width="470.8" height="409.9" fill="none" stroke="#333333" stroke-width="1.7"/>
<g stroke="#1a1a1a" stroke-width="2.2">
<line x1="1425.6" y1="970.5" x2="1431.8" y2="970.5"/>
<line x1="1425.6" y1="862.4" x2="1431.8" y2="862.4"/>
<line x1="1425.6" y1="754.4" x2="1431.8" y2="754.4"/>
<line x1="1425.6" y1="646.6" x2="1431.8" y2="646.6"/>
<line x1="1902.6" y1="993.3" x2="1908.8" y2="993.3"/>
<line x1="1902.6" y1="896.3" x2="1908.8" y2="896.3"/>
<line x1="1902.6" y1="799.3" x2="1908.8" y2="799.3"/>
<line x1="1902.6" y1="702.3" x2="1908.8" y2="702.3"/>
<line x1="1902.6" y1="605.3" x2="1908.8" y2="605.3"/>
<line x1="1448" y1="993" x2="1448" y2="999.2"/>
<line x1="1564.84" y1="993" x2="1564.84" y2="999.2"/>
<line x1="1681.68" y1="993" x2="1681.68" y2="999.2"/>
<line x1="1798.52" y1="993" x2="1798.52" y2="999.2"/>
</g>
<g font-family='"Liberation Serif", "DejaVu Serif", serif' font-size="33.6" fill="#222">
<text x="1420" y="979.7" text-anchor="end">0</text>
<text x="1420" y="871.6" text-anchor="end">10</text>
<text x="1420" y="763.6" text-anchor="end">20</text>
<text x="1420" y="655.8" text-anchor="end">30</text>
<text x="1913.2" y="1003.5">0.00</text>
<text x="1913.2" y="906.5">0.25</text>
<text x="1913.2" y="809.5">0.50</text>
<text x="1913.2" y="712.5">0.75</text>
<text x="1913.2" y="615.5">1.00</text>
<text x="1448" y="1024.1" text-anchor="middle">0</text>
<text x="1564.84" y="1024.1" text-anchor="middle">2</text>
<text x="1681.68" y="1024.1" text-anchor="middle">4</text>
<text x="1798.52" y="1024.1" text-anchor="middle">6</text>
</g>
<g font-family='"Liberation Serif", "DejaVu Serif", serif' font-size="32.0" fill="#000" stroke="#000" stroke-width="0.3">
<text transform="translate(1667 1057.6) scale(0.99 1.05)" text-anchor="middle">SHR</text>
<text transform="translate(1376.3 788.7) rotate(-90) scale(1.008 1.05)" text-anchor="middle">HR [95%CI]</text>
<text transform="translate(1983.5 786.1) rotate(90) scale(1.015 0.97)" text-anchor="middle">density</text>
</g>
<text x="1432.3" y="565.8" font-family='"Liberation Serif", "DejaVu Serif", serif' font-size="27.7" fill="#000" stroke="#000" stroke-width="0.3" textLength="167.8" lengthAdjust="spacing">RCS (model 3)</text>
<text transform="translate(1353.5 1023.5) scale(0.94 1)" font-family='"Liberation Sans", "DejaVu Sans", sans-serif' font-size="68.6" fill="#000" stroke="#000" stroke-width="0.7">F</text>
</g>
</svg>
</body>
</html>
